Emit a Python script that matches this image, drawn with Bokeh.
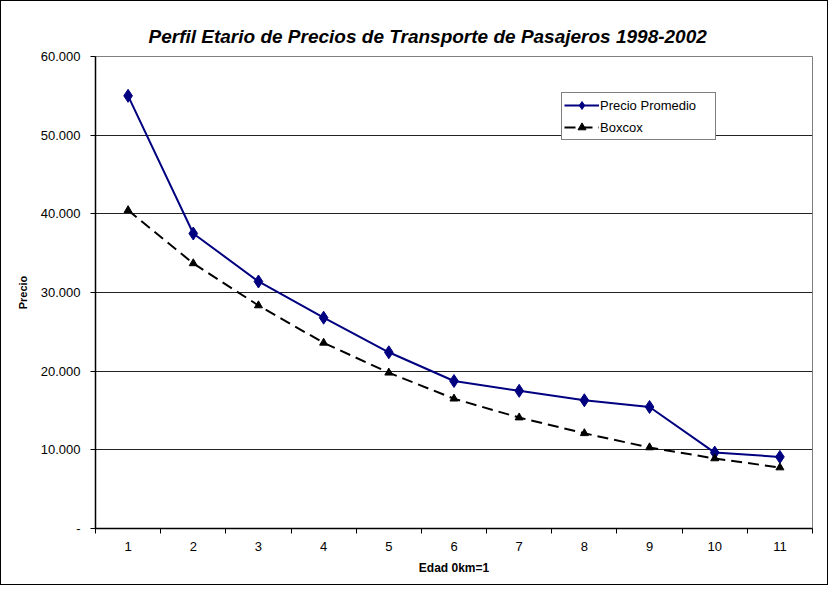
from bokeh.plotting import figure
from bokeh.models import FixedTicker, Legend, LegendItem, Range1d
from bokeh.embed import file_html
from bokeh.resources import INLINE

# Data
edad = [1, 2, 3, 4, 5, 6, 7, 8, 9, 10, 11]
precio_promedio = [55000, 37500, 31400, 26800, 22400, 18750, 17500, 16300, 15450, 9650, 9100]
boxcox = [40450, 33700, 28350, 23600, 19800, 16500, 14100, 12100, 10300, 8900, 7750]
y_ticks = [0, 10000, 20000, 30000, 40000, 50000, 60000]
y_tick_labels = ["-", "10.000", "20.000", "30.000", "40.000", "50.000", "60.000"]

FONT = "Liberation Sans"

p = figure(width=826, height=583, output_backend="svg", toolbar_location=None,
           x_range=Range1d(0.5, 11.5), y_range=Range1d(0, 60000),
           frame_width=717, frame_height=472,
           min_border_left=94, min_border_right=15, min_border_top=55, min_border_bottom=56)

p.title.text = "Perfil Etario de Precios de Transporte de Pasajeros 1998-2002"
p.title.text_font = FONT
p.title.text_font_style = "bold italic"
p.title.text_font_size = "19px"
p.title.text_color = "black"
p.title.align = "left"
p.title.offset = 53
p.title.standoff = 20

p.outline_line_color = "#808080"
p.background_fill_color = "white"
p.border_fill_color = "white"
p.styles = {"border": "1px solid black"}

# axes
p.xaxis.ticker = FixedTicker(ticks=edad, minor_ticks=[e - 0.5 for e in edad] + [edad[-1] + 0.5])
p.xaxis.major_tick_line_color = None
p.xaxis.minor_tick_line_color = "black"
p.xaxis.minor_tick_out = 5
p.xaxis.minor_tick_in = 0
p.xaxis.axis_line_color = "black"
p.xaxis.axis_line_width = 1.5
p.xaxis.major_label_text_font = FONT
p.xaxis.major_label_text_font_size = "13px"
p.xaxis.major_label_text_color = "black"
p.xaxis.major_label_standoff = 7
p.xaxis.axis_label = "Edad 0km=1"
p.xaxis.axis_label_text_font = FONT
p.xaxis.axis_label_text_font_style = "bold"
p.xaxis.axis_label_text_font_size = "12px"
p.xaxis.axis_label_text_color = "black"
p.xaxis.axis_label_standoff = 7

p.yaxis.ticker = FixedTicker(ticks=y_ticks, minor_ticks=[])
p.yaxis.major_label_overrides = {t: l for t, l in zip(y_ticks, y_tick_labels)}
p.yaxis.major_tick_out = 5
p.yaxis.major_tick_in = 0
p.yaxis.major_tick_line_color = "black"
p.yaxis.axis_line_color = "black"
p.yaxis.axis_line_width = 1.5
p.yaxis.major_label_text_font = FONT
p.yaxis.major_label_text_font_size = "13px"
p.yaxis.major_label_text_color = "black"
p.yaxis.major_label_standoff = 10
p.yaxis.axis_label = "Precio"
p.yaxis.axis_label_text_font = FONT
p.yaxis.axis_label_text_font_style = "bold"
p.yaxis.axis_label_text_font_size = "11px"
p.yaxis.axis_label_text_color = "black"
p.yaxis.axis_label_standoff = 9

p.xgrid.grid_line_color = None
p.ygrid.grid_line_color = "#222222"
p.ygrid.grid_line_width = 1

# series
l1 = p.line(edad, precio_promedio, line_color="#000080", line_width=2)
m1 = p.scatter(edad, precio_promedio, marker="diamond", size=13, fill_color="#000080",
               line_color="#000080")
l2 = p.line(edad, boxcox, line_color="black", line_width=2, line_dash="11 6")
m2 = p.scatter(edad, boxcox, marker="triangle", size=8, fill_color="black", line_color="black")

legend = Legend(items=[LegendItem(label="Precio Promedio", renderers=[l1, m1]),
                       LegendItem(label="Boxcox", renderers=[l2, m2])],
                location=(466, 388), orientation="vertical")
legend.label_text_font = FONT
legend.label_text_font_size = "13px"
legend.label_text_color = "black"
legend.border_line_color = "black"
legend.border_line_width = 1
legend.background_fill_color = "white"
legend.background_fill_alpha = 1
legend.glyph_width = 35
legend.glyph_height = 20
legend.label_height = 20
legend.label_standoff = 1
legend.spacing = 2
legend.padding = 2
legend.margin = 0
legend.label_width = 113
p.add_layout(legend)

open("out.html", "w").write(file_html(p, INLINE))
